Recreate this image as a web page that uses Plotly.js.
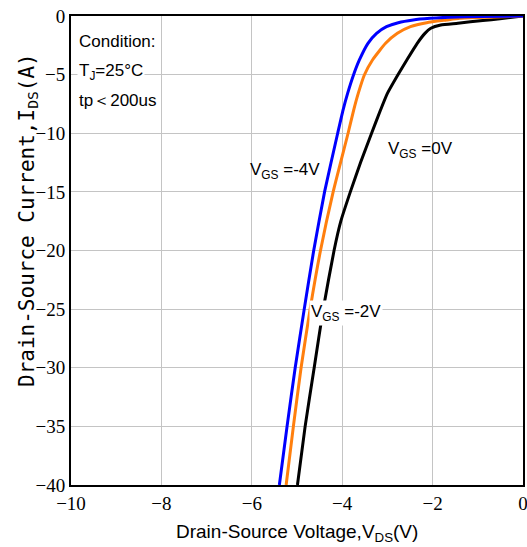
<!DOCTYPE html>
<html>
<head>
<meta charset="utf-8">
<script src="https://cdn.plot.ly/plotly-3.0.1.min.js"></script>
<style>html,body{margin:0;padding:0;background:#fff;}#chart{width:527px;height:547px;}</style>
</head>
<body>
<div id="chart"></div>
<script>
// VGS = -4V (blue)
const vdsM4 = [-5.39, -5.22, -5.04, -4.84, -4.63, -4.39, -4.10, -3.98, -3.88, -3.75, -3.62, -3.43, -3.24, -3.02, -2.76, -2.43, -2.06, -1.62, -0.96, 0];
const idsM4 = [-40, -35, -30, -25, -20, -15, -10, -8.0, -6.6, -5.03, -3.75, -2.33, -1.48, -0.91, -0.57, -0.34, -0.2, -0.1, -0.05, 0];
// VGS = -2V (orange)
const vdsM2 = [-5.24, -5.08, -4.91, -4.71, -4.48, -4.20, -3.87, -3.745, -3.645, -3.51, -3.33, -3.04, -2.78, -2.49, -2.13, -1.69, -1.40, -0.73, 0];
const idsM2 = [-40, -35, -30, -25, -20, -15, -10, -8.0, -6.6, -5.03, -3.75, -2.33, -1.48, -0.91, -0.57, -0.34, -0.2, -0.1, 0];
// VGS = 0V (black)
const vds0 = [-4.99, -4.82, -4.62, -4.42, -4.18, -4.03, -3.82, -3.59, -3.35, -3.15, -3.00, -2.77, -2.57, -2.34, -2.17, -2.04, -1.82, -1.44, -0.89, -0.51, 0];
const ids0 = [-40, -35, -30, -25, -20, -17.5, -15, -12.45, -10, -8.0, -6.6, -5.03, -3.75, -2.33, -1.48, -1.05, -0.77, -0.62, -0.38, -0.24, 0];

const xTicks = [-10, -8, -6, -4, -2, 0];
const yTicks = [0, -5, -10, -15, -20, -25, -30, -35, -40];

const lineStyle = (c) => ({color: c, width: 3, shape: 'spline', smoothing: 0.5});
const traces = [
  {x: vds0, y: ids0, mode: 'lines', line: lineStyle('#000000'), name: 'VGS=0V'},
  {x: vdsM2, y: idsM2, mode: 'lines', line: lineStyle('#ff7f0e'), name: 'VGS=-2V'},
  {x: vdsM4, y: idsM4, mode: 'lines', line: lineStyle('#0000ff'), name: 'VGS=-4V'}
];

const sans = 'Liberation Sans, Arial, sans-serif';
const txt = (x, y, text, opts) => Object.assign({
  x: x, y: y, xref: 'x', yref: 'y', text: text, showarrow: false,
  xanchor: 'left', yanchor: 'middle', font: {family: sans, size: 17, color: '#000'}
}, opts || {});
const minusLabel = v => v < 0 ? '\u2212' + (-v) : String(v);
const tickFont = {family: 'Liberation Serif, Times New Roman, serif', size: 19, color: '#000'};

const layout = {
  width: 527, height: 547,
  margin: {l: 71, r: 4, t: 16, b: 62},
  paper_bgcolor: '#fff', plot_bgcolor: '#fff',
  showlegend: false,
  xaxis: {
    range: [-10, 0], tickvals: xTicks, ticktext: xTicks.map(minusLabel),
    showgrid: true, gridcolor: '#c4c4c4', gridwidth: 1, zeroline: false,
    showline: true, linecolor: '#000', linewidth: 2, mirror: true, ticks: '',
    ticklabeloverflow: 'allow', tickfont: tickFont
  },
  yaxis: {
    range: [-40, 0], tickvals: yTicks, ticktext: yTicks.map(minusLabel),
    showgrid: true, gridcolor: '#c4c4c4', gridwidth: 1, zeroline: false,
    showline: true, linecolor: '#000', linewidth: 2, mirror: true, ticks: '',
    ticklabeloverflow: 'allow', tickfont: tickFont
  },
  annotations: [
    txt(-9.87, -2.2, 'Condition:', {bgcolor: '#fff'}),
    txt(-9.87, -4.8, 'T<sub>J</sub>=25°C', {bgcolor: '#fff'}),
    txt(-9.87, -7.2, 'tp＜200us', {bgcolor: '#fff'}),
    txt(-6.09, -13.2, 'V<sub>GS</sub> =-4V', {font: {family: sans, size: 17, color: '#000'}}),
    txt(-3.04, -11.4, 'V<sub>GS</sub> =0V', {font: {family: sans, size: 17, color: '#000'}}),
    txt(-4.74, -25.3, 'V<sub>GS</sub> =-2V', {bgcolor: '#fff', font: {family: sans, size: 17, color: '#000'}}),
    {xref: 'paper', yref: 'paper', x: 0.5, y: 0, yshift: -48, xanchor: 'center', yanchor: 'middle',
     showarrow: false, text: 'Drain-Source Voltage,V<sub>DS</sub>(V)', font: {family: sans, size: 19, color: '#000'}},
    {xref: 'paper', yref: 'paper', x: 0, y: 0.565, xshift: -43, xanchor: 'center', yanchor: 'middle',
     showarrow: false, textangle: -90, text: 'Drain-Source Current,I<sub>DS</sub>(A)',
     font: {family: 'DejaVu Sans Mono, monospace', size: 21, color: '#000'}}
  ]
};

Plotly.newPlot('chart', traces, layout, {displayModeBar: false, staticPlot: true});
</script>
</body>
</html>
